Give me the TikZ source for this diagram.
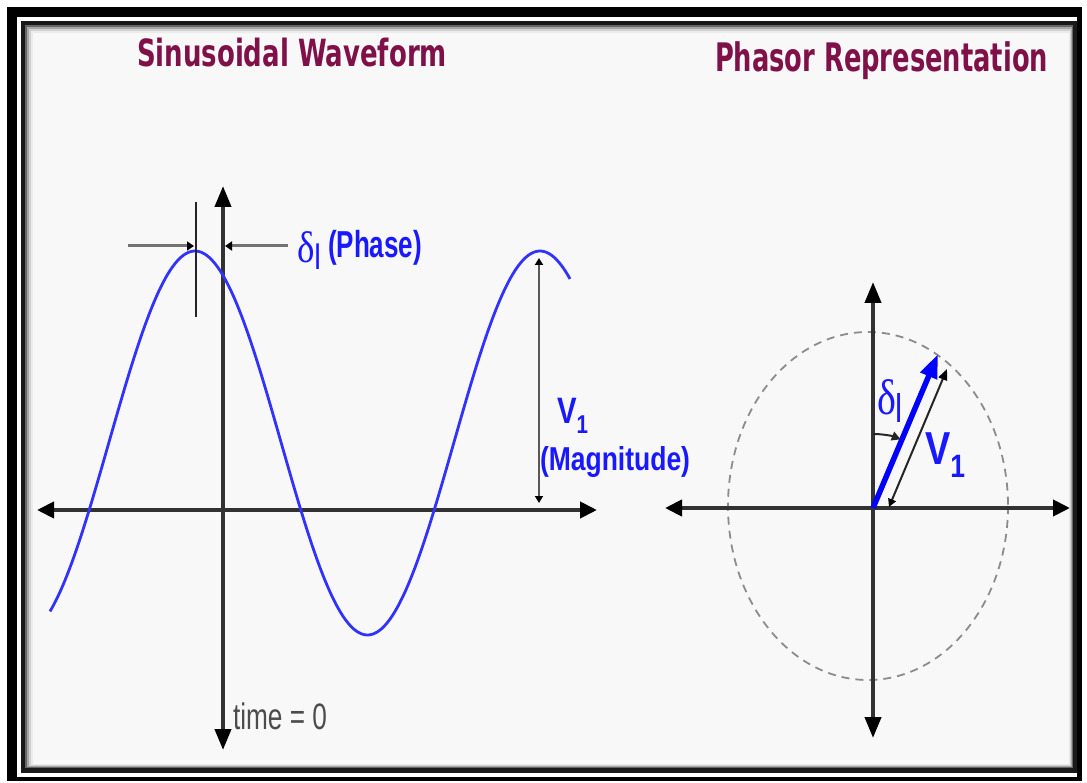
\documentclass[tikz,border=0pt]{standalone}
\usepackage{fontspec}
\usepackage{graphicx}
\usetikzlibrary{arrows.meta}
\newfontfamily\titlefont{DejaVu Sans}
\newfontfamily\labfont{Liberation Sans}
\newfontfamily\greekfont{Liberation Serif}
\definecolor{titlecol}{RGB}{128,16,72}
\definecolor{wavecol}{RGB}{50,50,255}
\definecolor{labcol}{RGB}{25,25,255}
\definecolor{axiscol}{RGB}{50,50,50}
\definecolor{bgcol}{RGB}{248,248,248}
\newcommand{\fitto}[3]{\resizebox*{#1pt}{#2pt}{#3}}
\tikzset{
  axisline/.style={draw=axiscol, line width=4pt,
    {Triangle[length=17pt,width=16pt,color=black]}-{Triangle[length=17pt,width=16pt,color=black]}},
  vaxisline/.style={draw=axiscol, line width=4pt,
    {Triangle[length=21pt,width=16pt,color=black]}-{Triangle[length=21pt,width=16pt,color=black]}},
  wave/.style={draw=wavecol, line width=2.8pt},
  dimline/.style={draw=black!55, line width=3pt, -{Triangle[length=7pt,width=9pt,color=black]}},
  magline/.style={draw=black!65, line width=2pt,
    {Triangle[length=7pt,width=8pt,color=black]}-{Triangle[length=7pt,width=8pt,color=black]}},
  marker/.style={draw=black!85, line width=2.2pt},
  circ/.style={draw=black!45, line width=1.8pt, dash pattern=on 8pt off 6pt},
  phasor/.style={draw=blue, line width=5.5pt, -{Triangle[length=24pt,width=17pt]}},
  vline/.style={draw=black!85, line width=2pt,
    {Triangle[length=8pt,width=8pt,color=black]}-{Triangle[length=11pt,width=9pt,color=black]}},
  anglearc/.style={draw=black!85, line width=2pt, -{Triangle[length=9pt,width=9pt]}},
  lab/.style={anchor=north west, inner sep=0pt, outer sep=0pt},
}
\begin{document}
\begin{tikzpicture}[x=1pt,y=-1pt]
\useasboundingbox (0,0) rectangle (1087,783);
% frame
\fill[white] (0,0) rectangle (1087,783);
\fill[black] (7,7) rectangle (1082,781);
\fill[white] (17,17) rectangle (1077,777);
\fill[black!90] (21,21) rectangle (1077,773);
\fill[black!60] (25,25) rectangle (1073,768);
\fill[black!35] (27,27) rectangle (1072,767);
\fill[black!18] (29,29) rectangle (1071,766);
\fill[black!8] (31,31) rectangle (1070,765);
\fill[bgcol] (33,33) rectangle (1069,764);

% titles
\node[lab, text=titlecol] (t1) at (137,38) {\fitto{310}{29}{\titlefont\bfseries Sinusoidal Waveform}};
\node[lab, text=titlecol] (t2) at (715,42) {\fitto{333}{38}{\titlefont\bfseries Phasor Representation}};

% ---- waveform ----
\coordinate (hl) at (37,510);
\coordinate (hr) at (597,510);
\coordinate (vt) at (223,186);
\coordinate (vb) at (223,750);
\draw[axisline] (hl) -- (hr);
\draw[vaxisline] (vt) -- (vb);

\draw[wave] plot[domain=50:570, samples=200, smooth] (\x, {443 - 192*cos(1.043478*(\x-195))});

% phase marker
\coordinate (mt) at (196,202);
\coordinate (mb) at (196,317);
\draw[marker] (mt) -- (mb);
\coordinate (dl0) at (128,246);
\coordinate (dl1) at (194,246);
\coordinate (dr0) at (288,246);
\coordinate (dr1) at (225,246);
\draw[dimline] (dl0) -- (dl1);
\draw[dimline] (dr0) -- (dr1);
\node[lab, text=labcol] (dlab) at (297,232) {\fitto{24}{38}{\greekfont δ\raisebox{-0.35ex}{\labfont\footnotesize l}}};
\node[lab, text=labcol] (phase) at (328,230) {\fitto{94}{35}{\labfont\bfseries (Phase)}};

% magnitude
\coordinate (mgt) at (539,258);
\coordinate (mgb) at (539,503);
\draw[magline] (mgb) -- (mgt);
\node[lab, text=labcol] (v1a) at (557,398) {\fitto{31}{35}{\labfont\bfseries V\raisebox{-0.5ex}{\scriptsize 1}}};
\node[lab, text=labcol] (mag) at (540,447) {\fitto{150}{31}{\labfont\bfseries (Magnitude)}};

\node[lab, text=black!70] (time) at (233,703) {\fitto{94}{27}{\labfont time = 0}};

% ---- phasor ----
\coordinate (pl) at (665,508);
\coordinate (pr) at (1070,508);
\coordinate (pt) at (873,282);
\coordinate (pb) at (873,738);
\draw[circ] (868,506) ellipse [x radius=140, y radius=174];
\draw[axisline] (pl) -- (pr);
\draw[vaxisline] (pt) -- (pb);

\coordinate (po) at (873,508);
\coordinate (ptip) at (938,354);
\draw[phasor] (po) -- (ptip);
\coordinate (vlb) at (889,507);
\coordinate (vlt) at (947,369);
\draw[vline] (vlb) -- (vlt);
\coordinate (as) at (873,434);
\draw[anglearc] (as) arc[start angle=-90, end angle=-68, radius=74];

\node[lab, text=labcol] (dlab2) at (877,380) {\fitto{26}{43}{\greekfont δ\raisebox{-0.35ex}{\labfont\footnotesize l}}};
\node[lab, text=labcol] (v1b) at (925,433) {\fitto{40}{44}{\labfont\bfseries V\raisebox{-0.5ex}{\scriptsize 1}}};
\end{tikzpicture}
\end{document}
